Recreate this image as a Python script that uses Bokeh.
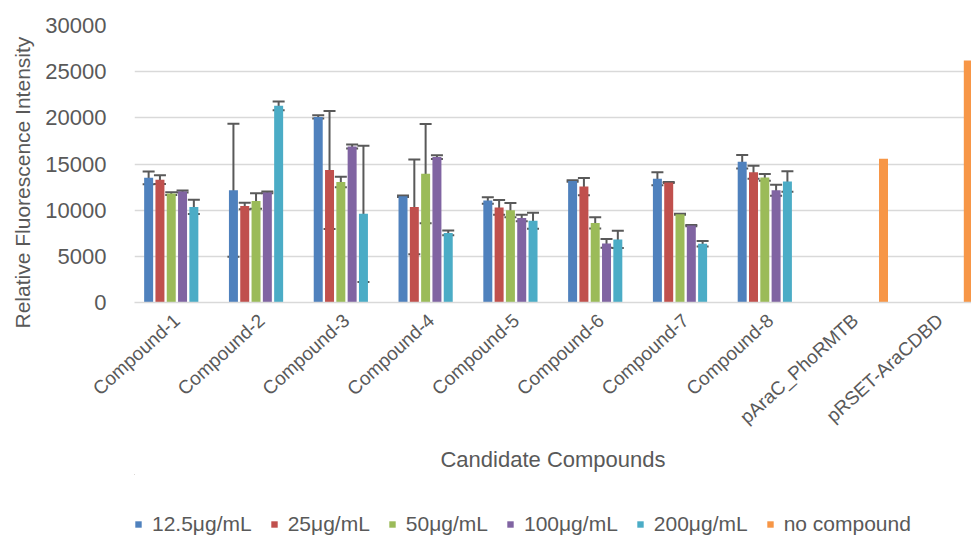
from bokeh.plotting import figure
from bokeh.layouts import column
from bokeh.models import (Range1d, FixedTicker, Whisker, TeeHead, ColumnDataSource,
                          Legend, LegendItem, Title)
from bokeh.embed import file_html
from bokeh.resources import INLINE

categories = ["Compound-1", "Compound-2", "Compound-3", "Compound-4", "Compound-5",
              "Compound-6", "Compound-7", "Compound-8", "pAraC_PhoRMTB", "pRSET-AraCDBD"]

c125 = [13500, 12150, 20100, 11500, 11050, 13150, 13400, 15250]
e125 = [700, 7200, 180, 80, 350, 80, 700, 730]
c25 = [13300, 10450, 14350, 10350, 10300, 12550, 13000, 14100]
e25 = [470, 360, 6380, 5130, 800, 930, 60, 700]
c50 = [11800, 10980, 13050, 13950, 10000, 8620, 9550, 13550]
e50 = [150, 840, 575, 5380, 770, 600, 50, 375]
c100 = [12020, 11920, 16900, 15750, 9150, 6400, 8330, 12150]
e100 = [100, 100, 220, 200, 360, 470, 60, 590]
c200 = [10350, 21300, 9600, 7540, 8850, 6830, 6360, 13100]
e200 = [770, 480, 7370, 250, 860, 930, 290, 1110]
nocomp = [15560, 26220]

series_labels = ["12.5μg/mL", "25μg/mL", "50μg/mL", "100μg/mL", "200μg/mL", "no compound"]
colors = ["#4F81BD", "#C0504D", "#9BBB59", "#8064A2", "#4BACC6", "#F79646"]
yticks = [0, 5000, 10000, 15000, 20000, 25000, 30000]

FONT = "Liberation Sans"
GRAY = "#595959"
STEP = 0.1333
BARW = 0.106

p = figure(width=971, height=474, output_backend="svg", toolbar_location=None,
           x_range=Range1d(-0.5, 9.371), y_range=Range1d(0, 30000),
           min_border_left=131, min_border_right=0, min_border_top=25, min_border_bottom=170)
p.outline_line_color = None
p.xgrid.visible = False
p.ygrid.grid_line_color = "#D9D9D9"
p.ygrid.grid_line_width = 1.5
p.ygrid.ticker = FixedTicker(ticks=yticks)

p.yaxis.ticker = FixedTicker(ticks=yticks)
p.yaxis.axis_line_color = None
p.yaxis.major_tick_line_color = None
p.yaxis.minor_tick_line_color = None
p.yaxis.major_label_text_font = FONT
p.yaxis.major_label_text_font_size = "22px"
p.yaxis.major_label_text_color = GRAY
p.yaxis.major_label_standoff = 22

p.xaxis.ticker = FixedTicker(ticks=list(range(len(categories))))
p.xaxis.major_label_overrides = {i: c for i, c in enumerate(categories)}
p.xaxis.major_label_orientation = 0.74
p.xaxis.axis_line_color = "#D9D9D9"
p.xaxis.axis_line_width = 1.5
p.xaxis.major_tick_line_color = None
p.xaxis.minor_tick_line_color = None
p.xaxis.major_label_text_font = FONT
p.xaxis.major_label_text_font_size = "19px"
p.xaxis.major_label_text_color = GRAY
p.xaxis.major_label_standoff = 9
p.xaxis.axis_label = "Candidate Compounds"
p.xaxis.axis_label_text_font = FONT
p.xaxis.axis_label_text_font_size = "22px"
p.xaxis.axis_label_text_font_style = "normal"
p.xaxis.axis_label_text_color = GRAY
p.xaxis.axis_label_standoff = 8

ytitle = Title(text="Relative Fluorescence Intensity", align="left", offset=-26,
               standoff=17, text_font=FONT, text_font_size="21px",
               text_font_style="normal", text_color=GRAY)
p.add_layout(ytitle, "left")

vals = [c125, c25, c50, c100, c200]
errs = [e125, e25, e50, e100, e200]
for k, (v, e) in enumerate(zip(vals, errs)):
    xs = [i + (k - 2.5) * STEP for i in range(len(v))]
    src = ColumnDataSource(dict(x=xs, top=v,
                                upper=[a + b for a, b in zip(v, e)],
                                lower=[a - b for a, b in zip(v, e)]))
    p.vbar(x="x", top="top", bottom=0, width=BARW, source=src,
           fill_color=colors[k], line_color=None)
    w = Whisker(base="x", upper="upper", lower="lower", source=src,
                line_color=GRAY, line_width=2,
                upper_head=TeeHead(size=12, line_color=GRAY, line_width=2),
                lower_head=TeeHead(size=12, line_color=GRAY, line_width=2))
    p.add_layout(w)

xs_nc = [8 + i + 2.5 * STEP for i in range(len(nocomp))]
src_nc = ColumnDataSource(dict(x=xs_nc, top=nocomp))
p.vbar(x="x", top="top", bottom=0, width=BARW, source=src_nc,
       fill_color=colors[5], line_color=None)

# legend strip (swatch renderers sit entirely outside the visible ranges)
lp = figure(width=971, height=62, output_backend="svg", toolbar_location=None,
            x_range=Range1d(0, 1), y_range=Range1d(0, 1),
            min_border=0, min_border_left=0, min_border_right=0)
lp.axis.visible = False
lp.grid.visible = False
lp.outline_line_color = None
items = []
for l, c in zip(series_labels, colors):
    rr = lp.vbar(x=[-5], top=[3], bottom=[2], width=0.1, fill_color=c, line_color=None)
    items.append(LegendItem(label=l, renderers=[rr]))
legend = Legend(items=items, orientation="horizontal", location=(0, 0),
                glyph_width=8, glyph_height=8, label_standoff=10, spacing=18,
                padding=0, margin=0, border_line_color=None, background_fill_alpha=0,
                label_text_font=FONT, label_text_font_size="21px", label_text_color=GRAY)
lp.add_layout(legend, "center")

layout = column(p, lp, spacing=0)
open("out.html", "w").write(file_html(layout, INLINE))
